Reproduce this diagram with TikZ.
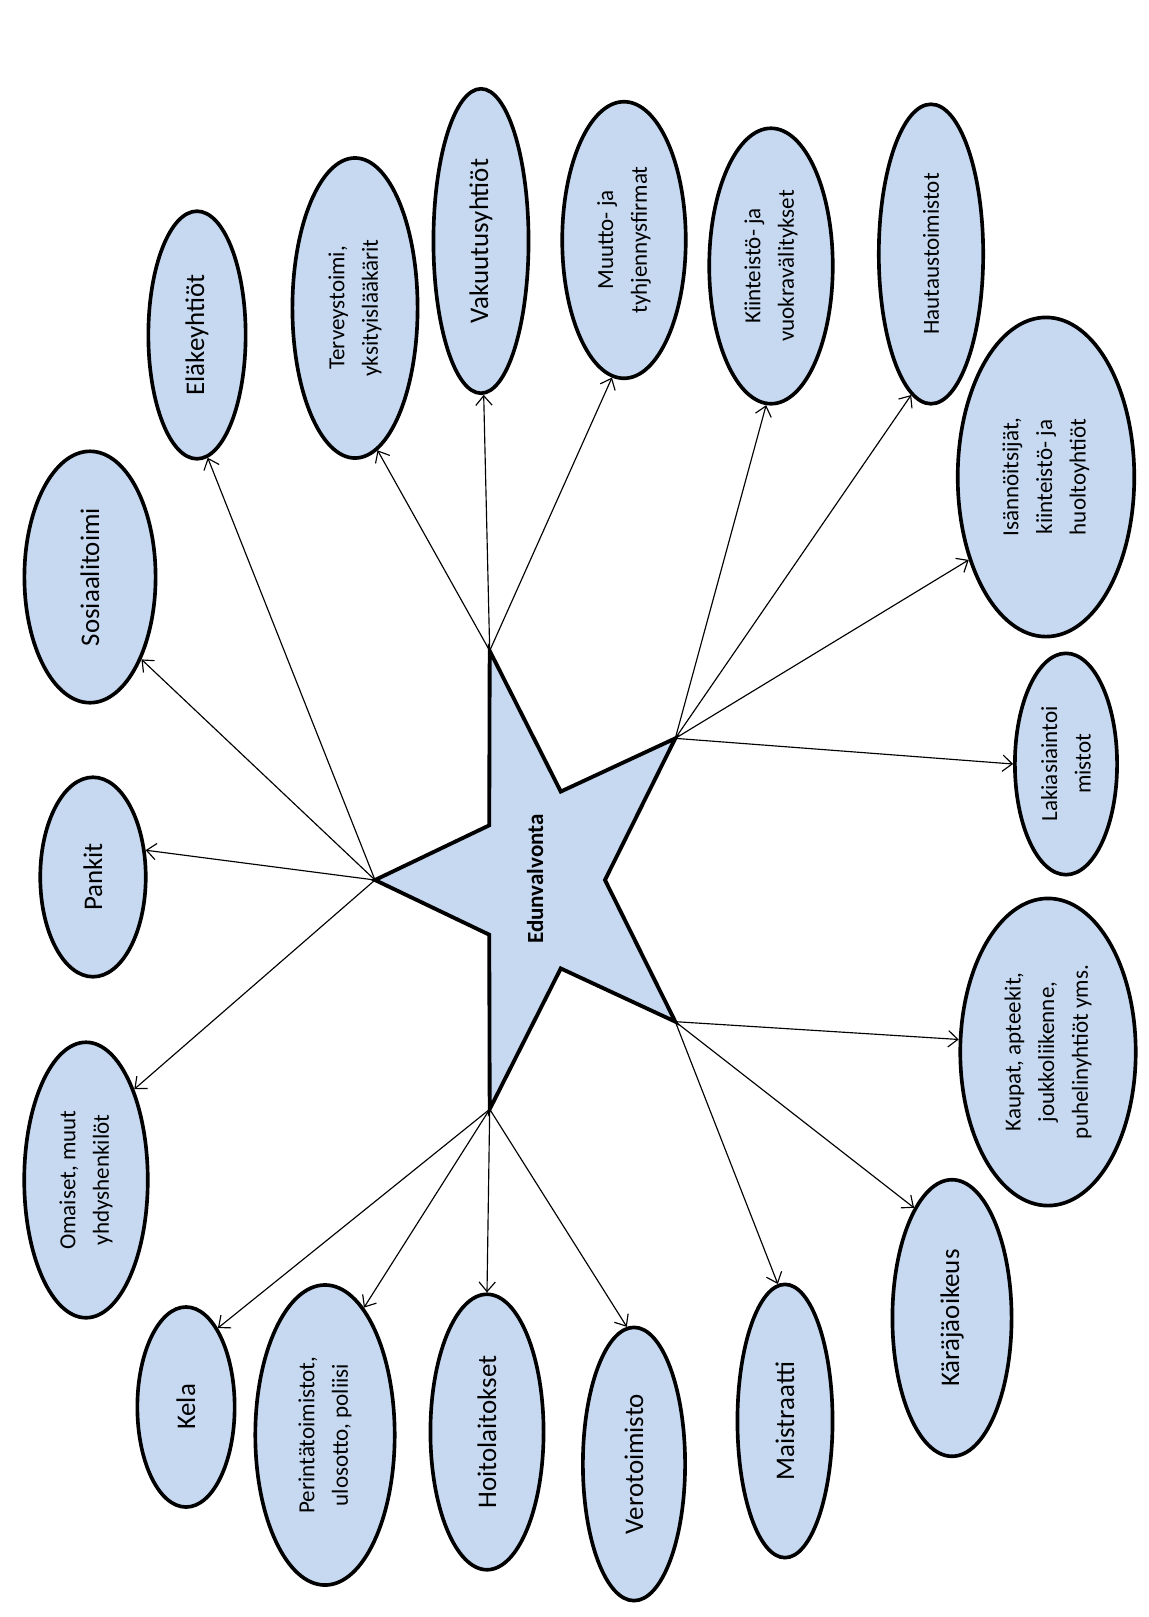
\documentclass[tikz,border=0pt]{standalone}
\usepackage{fontspec}
\setmainfont{Carlito}
\usetikzlibrary{shapes.geometric, arrows.meta}
\definecolor{bubblefill}{HTML}{C6D9F1}

\begin{document}
\begin{tikzpicture}[x=0.0183cm, y=-0.0183cm,
    bubble/.style={ellipse, draw=black, line width=1.9pt, fill=bubblefill, rotate=90, align=center, inner sep=0pt},
    big/.style={font=\fontsize{14}{17}\selectfont},
    small/.style={font=\fontsize{12}{17.5}\selectfont},
    arr/.style={-{Straight Barb[length=5pt, width=8.5pt]}, line width=0.6pt}]
  \useasboundingbox (0,0) rectangle (1148,1617);

  \begin{scope}[shift={(541,880)}]
    \draw[line width=2pt, fill=bubblefill] (180:166 and 241) -- (216:64 and 93) -- (252:166 and 241) -- (288:64 and 93) -- (324:166 and 241) -- (0:64 and 93) -- (36:166 and 241) -- (72:64 and 93) -- (108:166 and 241) -- (144:64 and 93) -- cycle;
    \coordinate (stLeft) at (180:166 and 241);
    \coordinate (stTop) at (252:166 and 241);
    \coordinate (stUR) at (324:166 and 241);
    \coordinate (stLR) at (36:166 and 241);
    \coordinate (stBot) at (108:166 and 241);
  \end{scope}
  \node[rotate=90, font=\bfseries\fontsize{12}{14}\selectfont] (edun) at (535,879) {Edunvalvonta};

  \node[bubble, big, minimum width=4.60cm, minimum height=2.40cm] (sosiaali) at (90,577) {Sosiaalitoimi};
  \node[bubble, big, minimum width=4.53cm, minimum height=1.78cm] (elake) at (197,335) {Eläkeyhtiöt};
  \node[bubble, small, minimum width=5.49cm, minimum height=2.29cm] (terveys) at (355,308) {Terveystoimi,\\yksityislääkärit};
  \node[bubble, big, minimum width=5.57cm, minimum height=1.74cm] (vakuutus) at (481,241) {Vakuutusyhtiöt};
  \node[bubble, small, minimum width=5.06cm, minimum height=2.26cm] (muutto) at (624,240) {Muutto- ja\\tyhjennysfirmat};
  \node[bubble, small, minimum width=5.04cm, minimum height=2.26cm] (kiinteisto) at (771,266) {Kiinteistö- ja\\vuokravälitykset};
  \node[bubble, small, minimum width=5.48cm, minimum height=1.91cm] (hautaus) at (931,254) {Hautaustoimistot};
  \node[bubble, small, minimum width=5.84cm, minimum height=3.23cm] (isannoitsija) at (1046,477) {Isännöitsijät,\\kiinteistö- ja\\huoltoyhtiöt};
  \node[bubble, small, minimum width=4.05cm, minimum height=1.87cm] (laki) at (1066,764) {Lakiasiaintoi\\mistot};
  \node[bubble, small, minimum width=5.62cm, minimum height=3.21cm] (kaupat) at (1048,1052) {Kaupat, apteekit,\\joukkoliikenne,\\puhelinyhtiöt yms.};
  \node[bubble, big, minimum width=5.06cm, minimum height=2.18cm] (karaja) at (952,1318) {Käräjäoikeus};
  \node[bubble, big, minimum width=5.00cm, minimum height=1.74cm] (maistraatti) at (785,1421) {Maistraatti};
  \node[bubble, big, minimum width=5.00cm, minimum height=1.87cm] (vero) at (634,1464) {Verotoimisto};
  \node[bubble, big, minimum width=5.04cm, minimum height=2.07cm] (hoito) at (487,1432) {Hoitolaitokset};
  \node[bubble, small, minimum width=5.49cm, minimum height=2.55cm] (perinta) at (325,1435) {Perintätoimistot,\\ulosotto, poliisi};
  \node[bubble, big, minimum width=3.66cm, minimum height=1.78cm] (kela) at (186,1407) {Kela};
  \node[bubble, small, minimum width=5.04cm, minimum height=2.26cm] (omaiset) at (86,1180) {Omaiset, muut\\yhdyshenkilöt};
  \node[bubble, big, minimum width=3.65cm, minimum height=1.93cm] (pankit) at (93,877) {Pankit};

  \draw[arr] (stLeft) -- (omaiset.-28);
  \draw[arr] (stLeft) -- (pankit.-63);
  \draw[arr] (stLeft) -- (sosiaali.-148);
  \draw[arr] (stLeft) -- (elake.-175);
  \draw[arr] (stTop) -- (terveys.-171);
  \draw[arr] (stTop) -- (vakuutus.-179);
  \draw[arr] (stTop) -- (muutto.175);
  \draw[arr] (stUR) -- (kiinteisto.178);
  \draw[arr] (stUR) -- (hautaus.172);
  \draw[arr] (stUR) -- (isannoitsija.137);
  \draw[arr] (stUR) -- (laki.90);
  \draw[arr] (stLR) -- (kaupat.82);
  \draw[arr] (stLR) -- (karaja.19);
  \draw[arr] (stLR) -- (maistraatti.3);
  \draw[arr] (stBot) -- (vero.3);
  \draw[arr] (stBot) -- (hoito.0);
  \draw[arr] (stBot) -- (perinta.-17);
  \draw[arr] (stBot) -- (kela.-22);
\end{tikzpicture}
\end{document}
